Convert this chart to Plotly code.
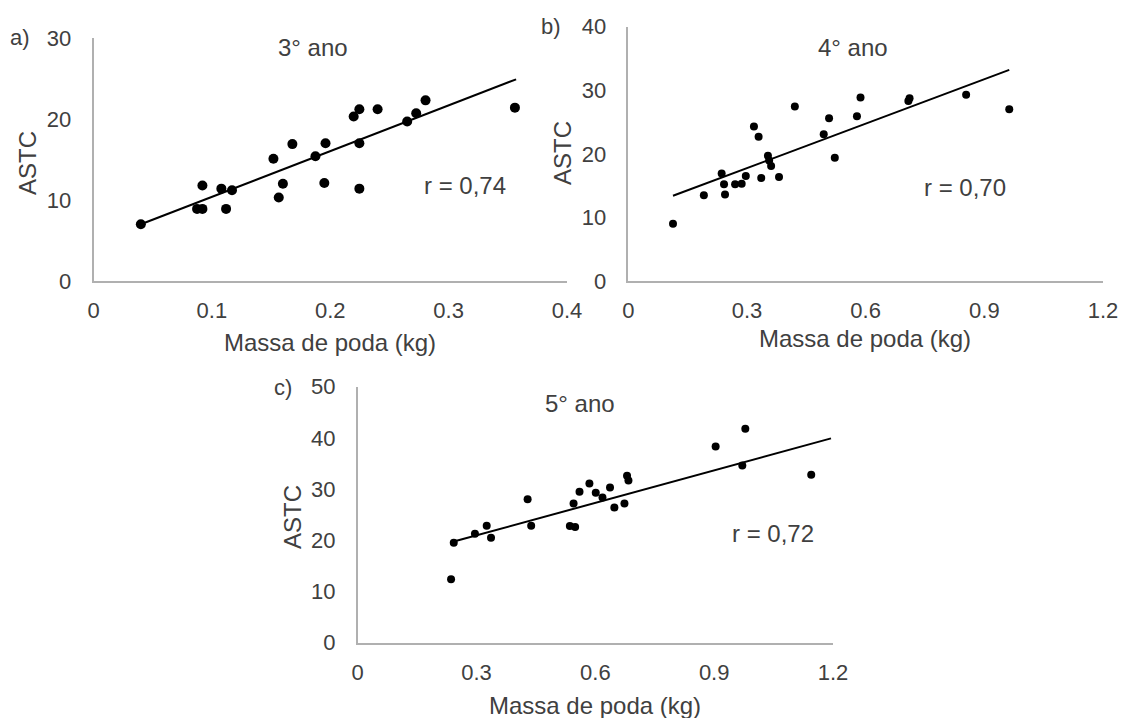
import plotly.graph_objects as go

W, H = 1122, 718

# ---------------- Data ----------------
# Panel a) 3° ano
a_x = [0.040, 0.092, 0.0875, 0.092, 0.108, 0.117, 0.112, 0.152, 0.168, 0.160, 0.1565,
       0.1875, 0.196, 0.195, 0.2246, 0.2246, 0.2198, 0.2246, 0.240, 0.265, 0.2726, 0.2805, 0.356]
a_y = [7.0, 11.8, 8.9, 8.9, 11.4, 11.2, 8.9, 15.1, 16.9, 12.0, 10.3,
       15.4, 17.0, 12.1, 17.0, 11.4, 20.3, 21.2, 21.2, 19.7, 20.7, 22.3, 21.4]
a_trend_x = [0.040, 0.357]
a_trend_y = [7.0, 24.9]

# Panel b) 4° ano
b_x = [0.113, 0.191, 0.236, 0.242, 0.2445, 0.270, 0.2866, 0.297, 0.3176, 0.3294, 0.336,
       0.353, 0.356, 0.361, 0.381, 0.421, 0.494, 0.5075, 0.522, 0.578, 0.587, 0.708, 0.711,
       0.854, 0.963]
b_y = [9.0, 13.5, 16.9, 15.2, 13.6, 15.2, 15.3, 16.5, 24.3, 22.7, 16.2,
       19.7, 18.95, 18.1, 16.35, 27.45, 23.1, 25.6, 19.4, 25.9, 28.85, 28.3, 28.75,
       29.3, 27.0]
b_trend_x = [0.113, 0.963]
b_trend_y = [13.4, 33.2]

# Panel c) 5° ano
c_x = [0.2357, 0.2425, 0.296, 0.3257, 0.3366, 0.429, 0.438, 0.5357, 0.549, 0.545, 0.560,
       0.585, 0.601, 0.618, 0.637, 0.648, 0.6735, 0.680, 0.6836, 0.9037, 0.971, 0.9786, 1.145]
c_y = [12.4, 19.5, 21.3, 22.85, 20.5, 28.0, 22.85, 22.8, 22.6, 27.2, 29.5,
       31.1, 29.3, 28.35, 30.3, 26.4, 27.2, 32.6, 31.7, 38.3, 34.6, 41.8, 32.8]
c_trend_x = [0.2425, 1.195]
c_trend_y = [19.75, 39.9]

a_xticks = [0, 0.1, 0.2, 0.3, 0.4]
a_xtext = ["0", "0.1", "0.2", "0.3", "0.4"]
a_yticks = [0, 10, 20, 30]
bc_xticks = [0, 0.3, 0.6, 0.9, 1.2]
bc_xtext = ["0", "0.3", "0.6", "0.9", "1.2"]
b_yticks = [0, 10, 20, 30, 40]
c_yticks = [0, 10, 20, 30, 40, 50]

panel_labels = ["a)", "b)", "c)"]
panel_titles = ["3° ano", "4° ano", "5° ano"]
r_labels = ["r = 0,74", "r = 0,70", "r = 0,72"]
x_title = "Massa de poda (kg)"
y_title = "ASTC"

FONT = "Liberation Sans, Arial, sans-serif"
TXT = "#404040"
AXC = "#b0b0b0"

fig = go.Figure()

def px_x(p):
    return p / W

def px_y(p):
    return 1 - p / H

# domains in pixels: (left, right, top, bottom)
doms = {
    "a": (93.5, 567, 38, 281),
    "b": (628.3, 1103, 26.7, 281),
    "c": (357.7, 833, 386.7, 642.7),
}

series = [
    ("a", "x", "y", a_x, a_y, a_trend_x, a_trend_y, 10),
    ("b", "x2", "y2", b_x, b_y, b_trend_x, b_trend_y, 8),
    ("c", "x3", "y3", c_x, c_y, c_trend_x, c_trend_y, 8),
]

for key, xa, ya, xs, ys, tx, ty, ms in series:
    fig.add_trace(go.Scatter(x=tx, y=ty, mode="lines", xaxis=xa, yaxis=ya,
                             line=dict(color="black", width=2), showlegend=False,
                             hoverinfo="skip"))
    fig.add_trace(go.Scatter(x=xs, y=ys, mode="markers", xaxis=xa, yaxis=ya,
                             marker=dict(color="black", size=ms), showlegend=False,
                             cliponaxis=False))

common_x = dict(showgrid=False, zeroline=False, showline=True, linecolor=AXC, linewidth=1.5,
                ticks="", tickfont=dict(family=FONT, size=22, color=TXT), ticklabelstandoff=9,
                tickmode="array", automargin=False)
common_y = dict(showgrid=False, zeroline=False, showline=True, linecolor=AXC, linewidth=1.5,
                ticks="", tickfont=dict(family=FONT, size=22, color=TXT), ticklabelstandoff=16,
                tickmode="array", automargin=False)

def dom(key):
    l, r, t, b = doms[key]
    return [px_x(l), px_x(r)], [px_y(b), px_y(t)]

dxa, dya = dom("a")
dxb, dyb = dom("b")
dxc, dyc = dom("c")

fig.update_layout(
    width=W, height=H, margin=dict(l=0, r=0, t=0, b=0, autoexpand=False),
    paper_bgcolor="white", plot_bgcolor="white",
    xaxis=dict(domain=dxa, range=[0, 0.4], anchor="y", tickvals=a_xticks, ticktext=a_xtext, **common_x),
    yaxis=dict(domain=dya, range=[0, 30], anchor="x", tickvals=a_yticks, **common_y),
    xaxis2=dict(domain=dxb, range=[0, 1.2], anchor="y2", tickvals=bc_xticks, ticktext=bc_xtext, **common_x),
    yaxis2=dict(domain=dyb, range=[0, 40], anchor="x2", tickvals=b_yticks, **common_y),
    xaxis3=dict(domain=dxc, range=[0, 1.2], anchor="y3", tickvals=bc_xticks, ticktext=bc_xtext, **common_x),
    yaxis3=dict(domain=dyc, range=[0, 50], anchor="x3", tickvals=c_yticks, **common_y),
)

def ann(text, x, y, size=24, angle=0):
    fig.add_annotation(text=text, x=px_x(x), y=px_y(y), xref="paper", yref="paper",
                       showarrow=False, xanchor="center", yanchor="middle", textangle=angle,
                       font=dict(family=FONT, size=size, color=TXT))

# panel labels
ann(panel_labels[0], 20, 38, 22)
ann(panel_labels[1], 551, 27, 22)
ann(panel_labels[2], 283, 387, 22)
# panel titles
ann(panel_titles[0], 313, 47)
ann(panel_titles[1], 853, 47)
ann(panel_titles[2], 580, 403)
# r values
ann(r_labels[0], 465, 185)
ann(r_labels[1], 965, 187)
ann(r_labels[2], 773, 533)
# axis titles
ann(x_title, 330, 342)
ann(x_title, 865, 338)
ann(x_title, 595, 705)
ann(y_title, 27, 163, angle=-90)
ann(y_title, 562, 153, angle=-90)
ann(y_title, 292, 517, angle=-90)

fig.write_html("out.html")
